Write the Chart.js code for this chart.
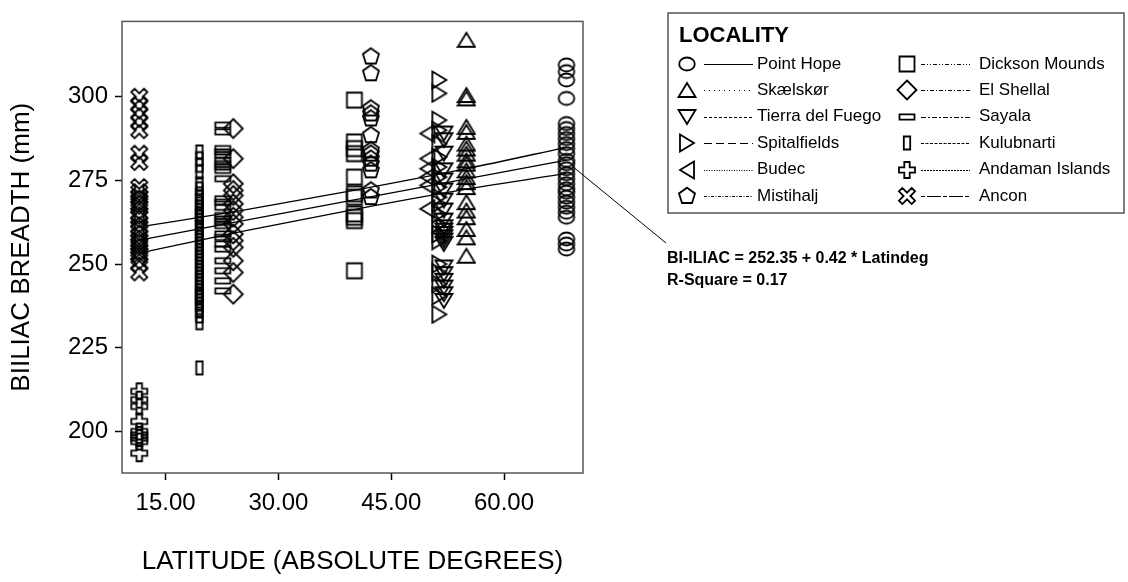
<!DOCTYPE html>
<html>
<head>
<meta charset="utf-8">
<script src="https://cdn.jsdelivr.net/npm/chart.js@4.4.1/dist/chart.umd.min.js"></script>
<style>
  html, body { margin: 0; padding: 0; background: #fff; }
  canvas { display: block; }
</style>
</head>
<body>
<canvas id="chart" width="1128" height="582"></canvas>
<script>
// ---- Data: biiliac breadth (mm) by site latitude (absolute degrees) ----
const localityNames = ['Point Hope', 'Skælskør', 'Tierra del Fuego', 'Spitalfields', 'Budec', 'Mistihalj',
                       'Dickson Mounds', 'El Shellal', 'Sayala', 'Kulubnarti', 'Andaman Islands', 'Ancon'];
const localityLatitudes = [68.3, 55.0, 52.0, 51.4, 49.8, 42.3, 40.1, 24.0, 22.6, 19.5, 11.5, 11.5];

const pointHope = [309.5, 307.5, 305, 299.5, 292, 290.5, 289, 287.5, 286, 284.5, 283, 281, 280, 278.5, 277,
                   275.5, 274, 272.5, 271.5, 270, 268.5, 267, 265.5, 264, 257.5, 256, 254.5];
const skaelskor = [317, 300.5, 299.5, 291, 289.5, 286, 284.5, 283, 281, 280, 278, 276, 274.5, 273, 268.5,
                   266, 264, 260.5, 258, 252.5];
const tierraDelFuego = [289, 287, 283, 278, 275, 272, 269, 266, 263, 261, 260, 259, 258, 257, 256,
                        249, 247, 245, 243, 241, 239];
const spitalfields = [305, 301, 293, 290, 286, 282, 279, 276, 273, 270, 268, 265, 262, 259, 257,
                      250, 247.5, 244, 240.5, 235];
const budec = [289, 281.5, 278.5, 276, 273.5, 266.5];
const mistihalj = [312, 307, 296.5, 295, 293.5, 288.5, 284, 283, 281.5, 280, 278, 272, 270];
const dicksonMounds = [299, 286.5, 284.5, 283, 276, 271, 270, 265, 264, 263, 248];
const elShellal = [290.5, 281.5, 274, 272, 270.5, 268, 266, 264, 262, 259, 257, 255, 251, 247.5, 241];
const sayala = [291.5, 289.5, 284.5, 283.5, 282.5, 281, 280, 279, 278, 275.5, 269.5, 268.5, 267, 264.5,
                263.5, 262.5, 261.5, 259, 258, 256, 254.5, 251, 248, 245, 242];
const kulubnarti = [283.5, 281.5, 279.5, 277.5, 274, 272.5, 271, 270, 269, 268, 267, 266, 265, 264.5, 264,
                    263, 262, 261, 260, 259, 258, 257, 256, 255, 254, 253, 252, 251, 250, 249, 248, 247,
                    246, 245, 244, 243, 242, 241, 240.5, 240, 239, 238, 237, 236, 234.5, 232.5, 219];
const andamanIslands = [212, 209.5, 207.5, 203, 200, 199, 198, 197, 193.5];
const ancon = [300, 297.5, 295, 292.5, 290, 283, 280.5, 273, 271.5, 270, 269, 268, 267, 265, 264, 262.5,
               261, 260, 258.5, 257, 256, 255, 254, 253, 252, 250, 247.5];

// Overall linear fit and its confidence band
const fitIntercept = 252.35;
const fitSlope = 0.42;
const fitRSquare = 0.17;
const fitLatRange = [11.5, 68.3];
const bandLat = [11.5, 25, 40, 55, 68.3];
const bandUpper = [261.1, 266.0, 272.0, 278.5, 284.9];
const bandLower = [253.3, 259.7, 266.3, 272.4, 277.1];
const labelAnchor = [69.2, 279];

// Axis ticks
const xTicks = [15, 30, 45, 60];
const yTicks = [200, 225, 250, 275, 300];

// ---- Marker glyphs (outlined, as in SPSS scatter plots) ----
function glyph(w, h, draw) {
  const c = document.createElement('canvas');
  c.width = w; c.height = h;
  const g = c.getContext('2d');
  g.strokeStyle = '#000';
  g.lineWidth = 1.8;
  g.lineJoin = 'miter';
  g.translate(w / 2, h / 2);
  g.beginPath();
  draw(g);
  g.closePath();
  g.stroke();
  return c;
}
function poly(g, pts) { pts.forEach((p, i) => i ? g.lineTo(p[0], p[1]) : g.moveTo(p[0], p[1])); }
function crossPts(a, e) {
  return [[-a,-e],[a,-e],[a,-a],[e,-a],[e,a],[a,a],[a,e],[-a,e],[-a,a],[-e,a],[-e,-a],[-a,-a]];
}
const markers = {
  circle:   glyph(20, 18, g => g.ellipse(0, 0, 7.8, 6.5, 0, 0, Math.PI * 2)),
  triUp:    glyph(20, 18, g => poly(g, [[0,-7],[8.5,7],[-8.5,7]])),
  triDown:  glyph(20, 18, g => poly(g, [[0,7],[8.5,-7],[-8.5,-7]])),
  triRight: glyph(18, 20, g => poly(g, [[-7,-8.5],[7,0],[-7,8.5]])),
  triLeft:  glyph(18, 20, g => poly(g, [[7,-8.5],[-7,0],[7,8.5]])),
  pentagon: glyph(20, 20, g => poly(g, [[0,-8.3],[8,-2.6],[5,7],[-5,7],[-8,-2.6]])),
  square:   glyph(20, 20, g => g.rect(-7.5, -7.5, 15, 15)),
  diamond:  glyph(24, 24, g => poly(g, [[0,-9.5],[9.5,0],[0,9.5],[-9.5,0]])),
  flatRect: glyph(20, 10, g => g.rect(-7.5, -2.7, 15, 5.4)),
  tallRect: glyph(10, 18, g => g.rect(-3.2, -6.5, 6.4, 13)),
  plus:     glyph(20, 20, g => poly(g, crossPts(2.7, 8))),
  saltire:  glyph(22, 22, g => { g.rotate(Math.PI / 4); poly(g, crossPts(2.4, 9)); })
};

const localityValues = [pointHope, skaelskor, tierraDelFuego, spitalfields, budec, mistihalj,
                        dicksonMounds, elShellal, sayala, kulubnarti, andamanIslands, ancon];
const localityMarkers = ['circle', 'triUp', 'triDown', 'triRight', 'triLeft', 'pentagon',
                         'square', 'diamond', 'flatRect', 'tallRect', 'plus', 'saltire'];
const localityDashes = [[], [1, 4], [3, 2], [8, 4], [1, 1.5], [3, 1.5, 1, 1.5],
                        [4, 2, 1, 2, 1, 2], [4, 2, 1, 2], [5, 2, 2, 2], [3, 1.5], [2, 1], [4, 2, 14, 2]];

const FONT = "'Liberation Sans', Arial, sans-serif";
Chart.defaults.font.family = FONT;
Chart.defaults.color = '#000';

const scatterSets = localityNames.map((name, i) => ({
  type: 'scatter',
  label: name,
  data: localityValues[i].map(v => ({ x: localityLatitudes[i], y: v })),
  pointStyle: markers[localityMarkers[i]],
  pointRadius: 7,
  clip: false
}));

const lineStyle = { type: 'line', borderColor: '#000', borderWidth: 1.3, pointRadius: 0, fill: false, showLine: true };
const fitSets = [
  Object.assign({ label: 'fit', data: fitLatRange.map(x => ({ x, y: fitIntercept + fitSlope * x })) }, lineStyle),
  Object.assign({ label: 'upper', data: bandLat.map((x, i) => ({ x, y: bandUpper[i] })), cubicInterpolationMode: 'monotone' }, lineStyle),
  Object.assign({ label: 'lower', data: bandLat.map((x, i) => ({ x, y: bandLower[i] })), cubicInterpolationMode: 'monotone' }, lineStyle)
];

// Plot frame, fit label and locality key
const decorations = {
  id: 'decorations',
  afterDraw(chart) {
    const { ctx, chartArea: a, scales: { x, y } } = chart;
    ctx.save();
    // frame
    ctx.strokeStyle = '#555';
    ctx.lineWidth = 1.5;
    ctx.strokeRect(a.left, a.top, a.right - a.left, a.bottom - a.top);

    // leader line and equation
    ctx.strokeStyle = '#000';
    ctx.lineWidth = 1;
    ctx.beginPath();
    ctx.moveTo(x.getPixelForValue(labelAnchor[0]), y.getPixelForValue(labelAnchor[1]));
    ctx.lineTo(666, 243);
    ctx.stroke();
    ctx.fillStyle = '#000';
    ctx.font = 'bold 16px ' + FONT;
    ctx.textBaseline = 'middle';
    ctx.textAlign = 'left';
    ctx.fillText('BI-ILIAC = ' + fitIntercept.toFixed(2) + ' + ' + fitSlope.toFixed(2) + ' * Latindeg', 667, 259);
    ctx.fillText('R-Square = ' + fitRSquare.toFixed(2), 667, 281);

    // key
    const box = { left: 668, top: 13, right: 1124, bottom: 213 };
    ctx.strokeStyle = '#555';
    ctx.lineWidth = 1.5;
    ctx.strokeRect(box.left, box.top, box.right - box.left, box.bottom - box.top);
    ctx.font = 'bold 22px ' + FONT;
    ctx.fillText('LOCALITY', 679, 36);
    ctx.font = '17px ' + FONT;
    const cols = [{ mark: 687, line0: 704, line1: 753, text: 757 },
                  { mark: 907, line0: 921, line1: 970, text: 979 }];
    localityNames.forEach((name, i) => {
      const col = cols[Math.floor(i / 6)];
      const rowY = 64 + (i % 6) * 26.4;
      const m = markers[localityMarkers[i]];
      ctx.drawImage(m, Math.round(col.mark - m.width / 2), Math.round(rowY - m.height / 2));
      ctx.strokeStyle = '#000';
      ctx.lineWidth = 1;
      ctx.setLineDash(localityDashes[i]);
      ctx.beginPath();
      ctx.moveTo(col.line0, Math.round(rowY) + 0.5);
      ctx.lineTo(col.line1, Math.round(rowY) + 0.5);
      ctx.stroke();
      ctx.setLineDash([]);
      ctx.fillText(name, col.text, rowY);
    });
    ctx.restore();
  }
};

new Chart(document.getElementById('chart'), {
  type: 'scatter',
  data: { datasets: scatterSets.concat(fitSets) },
  options: {
    responsive: false,
    animation: false,
    devicePixelRatio: 1,
    layout: { padding: { left: 0, top: 13, right: 545, bottom: 0 } },
    plugins: { legend: { display: false }, tooltip: { enabled: false } },
    scales: {
      x: {
        type: 'linear',
        min: 9.2,
        max: 70.5,
        afterBuildTicks: s => { s.ticks = xTicks.map(v => ({ value: v })); },
        afterFit: s => { s.height = 109; },
        ticks: { font: { size: 24 }, color: '#000', padding: 9, callback: v => Number(v).toFixed(2) },
        grid: { drawOnChartArea: false, drawTicks: true, tickLength: 7, tickColor: '#000', tickWidth: 1.5 },
        border: { display: false },
        title: { display: true, text: 'LATITUDE (ABSOLUTE DEGREES)', font: { size: 26 }, color: '#000', padding: { top: 4, bottom: 5 } }
      },
      y: {
        type: 'linear',
        min: 187.6,
        max: 322.5,
        afterBuildTicks: s => { s.ticks = yTicks.map(v => ({ value: v })); },
        afterFit: s => { s.width = 122; },
        ticks: { font: { size: 24 }, color: '#000', padding: 7 },
        grid: { drawOnChartArea: false, drawTicks: true, tickLength: 7, tickColor: '#000', tickWidth: 1.5 },
        border: { display: false },
        title: { display: true, text: 'BIILIAC BREADTH (mm)', font: { size: 26 }, color: '#000', padding: { top: 6, bottom: 4 } }
      }
    }
  },
  plugins: [decorations]
});
</script>
</body>
</html>
